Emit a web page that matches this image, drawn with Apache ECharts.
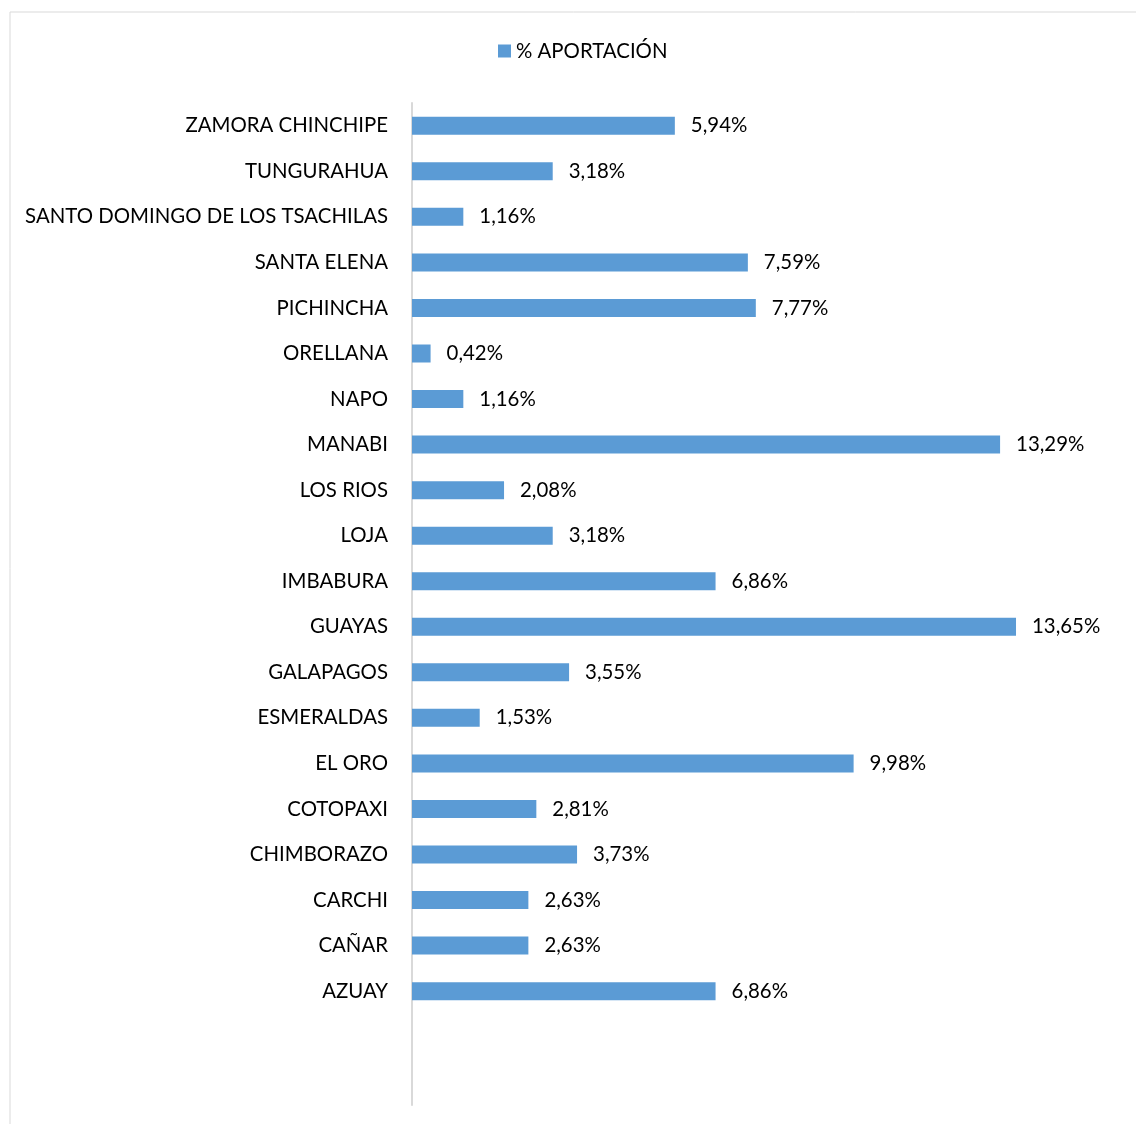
<!DOCTYPE html>
<html>
<head>
<meta charset="utf-8">
<script src="https://cdn.jsdelivr.net/npm/echarts@6/dist/echarts.min.js"></script>
<style>
  html, body { margin: 0; padding: 0; background: #ffffff; }
  #chart { width: 1136px; height: 1124px; }
</style>
</head>
<body>
<div id="chart"></div>
<script>
// Provinces, listed bottom to top as they appear on the category axis
const provincias = [
  'AZUAY', 'CAÑAR', 'CARCHI', 'CHIMBORAZO', 'COTOPAXI', 'EL ORO',
  'ESMERALDAS', 'GALAPAGOS', 'GUAYAS', 'IMBABURA', 'LOJA', 'LOS RIOS',
  'MANABI', 'NAPO', 'ORELLANA', 'PICHINCHA', 'SANTA ELENA',
  'SANTO DOMINGO DE LOS TSACHILAS', 'TUNGURAHUA', 'ZAMORA CHINCHIPE'
];
// Share of contribution per province (%)
const aportacion = [
  6.86, 2.63, 2.63, 3.73, 2.81, 9.98,
  1.53, 3.55, 13.65, 6.86, 3.18, 2.08,
  13.29, 1.16, 0.42, 7.77, 7.59,
  1.16, 3.18, 5.94
];
const serieNombre = '% APORTACIÓN';

// two empty slots below the last province
const ejeCategorias = [' ', '  '].concat(provincias);
const ejeValores = [null, null].concat(aportacion);

const FONT = 'Lato';
const FS = 20.4;
const chart = echarts.init(document.getElementById('chart'), null, { renderer: 'canvas' });

chart.setOption({
  animation: false,
  backgroundColor: '#ffffff',
  textStyle: { fontFamily: FONT },
  graphic: [{
    type: 'rect',
    shape: { x: 10, y: 12, width: 1140, height: 1130 },
    style: { fill: 'none', stroke: '#d9d9d9', lineWidth: 1 },
    silent: true
  }],
  legend: {
    left: 493,
    top: 36,
    itemWidth: 13,
    itemHeight: 13,
    itemGap: 10,
    textStyle: { fontFamily: FONT, fontSize: FS, color: '#000000', padding: [0, 0, 0, 0] },
    data: [{ name: serieNombre, icon: 'rect' }]
  },
  grid: { left: 412, top: 103, width: 708, height: 1002, containLabel: false },
  xAxis: {
    type: 'value',
    min: 0,
    max: 16,
    show: false
  },
  yAxis: {
    type: 'category',
    data: ejeCategorias,
    axisLine: { show: true, lineStyle: { color: '#d9d9d9', width: 2 } },
    axisTick: { show: false },
    axisLabel: { fontFamily: FONT, fontSize: FS, color: '#000000', margin: 24 },
    splitLine: { show: false }
  },
  series: [{
    name: serieNombre,
    type: 'bar',
    data: ejeValores,
    barWidth: 18,
    itemStyle: { color: '#5b9bd5' },
    label: {
      show: true,
      position: 'right',
      distance: 16,
      fontFamily: FONT,
      fontSize: FS,
      color: '#000000',
      formatter: p => p.value == null ? '' : p.value.toFixed(2).replace('.', ',') + '%'
    }
  }]
});
</script>
</body>
</html>
